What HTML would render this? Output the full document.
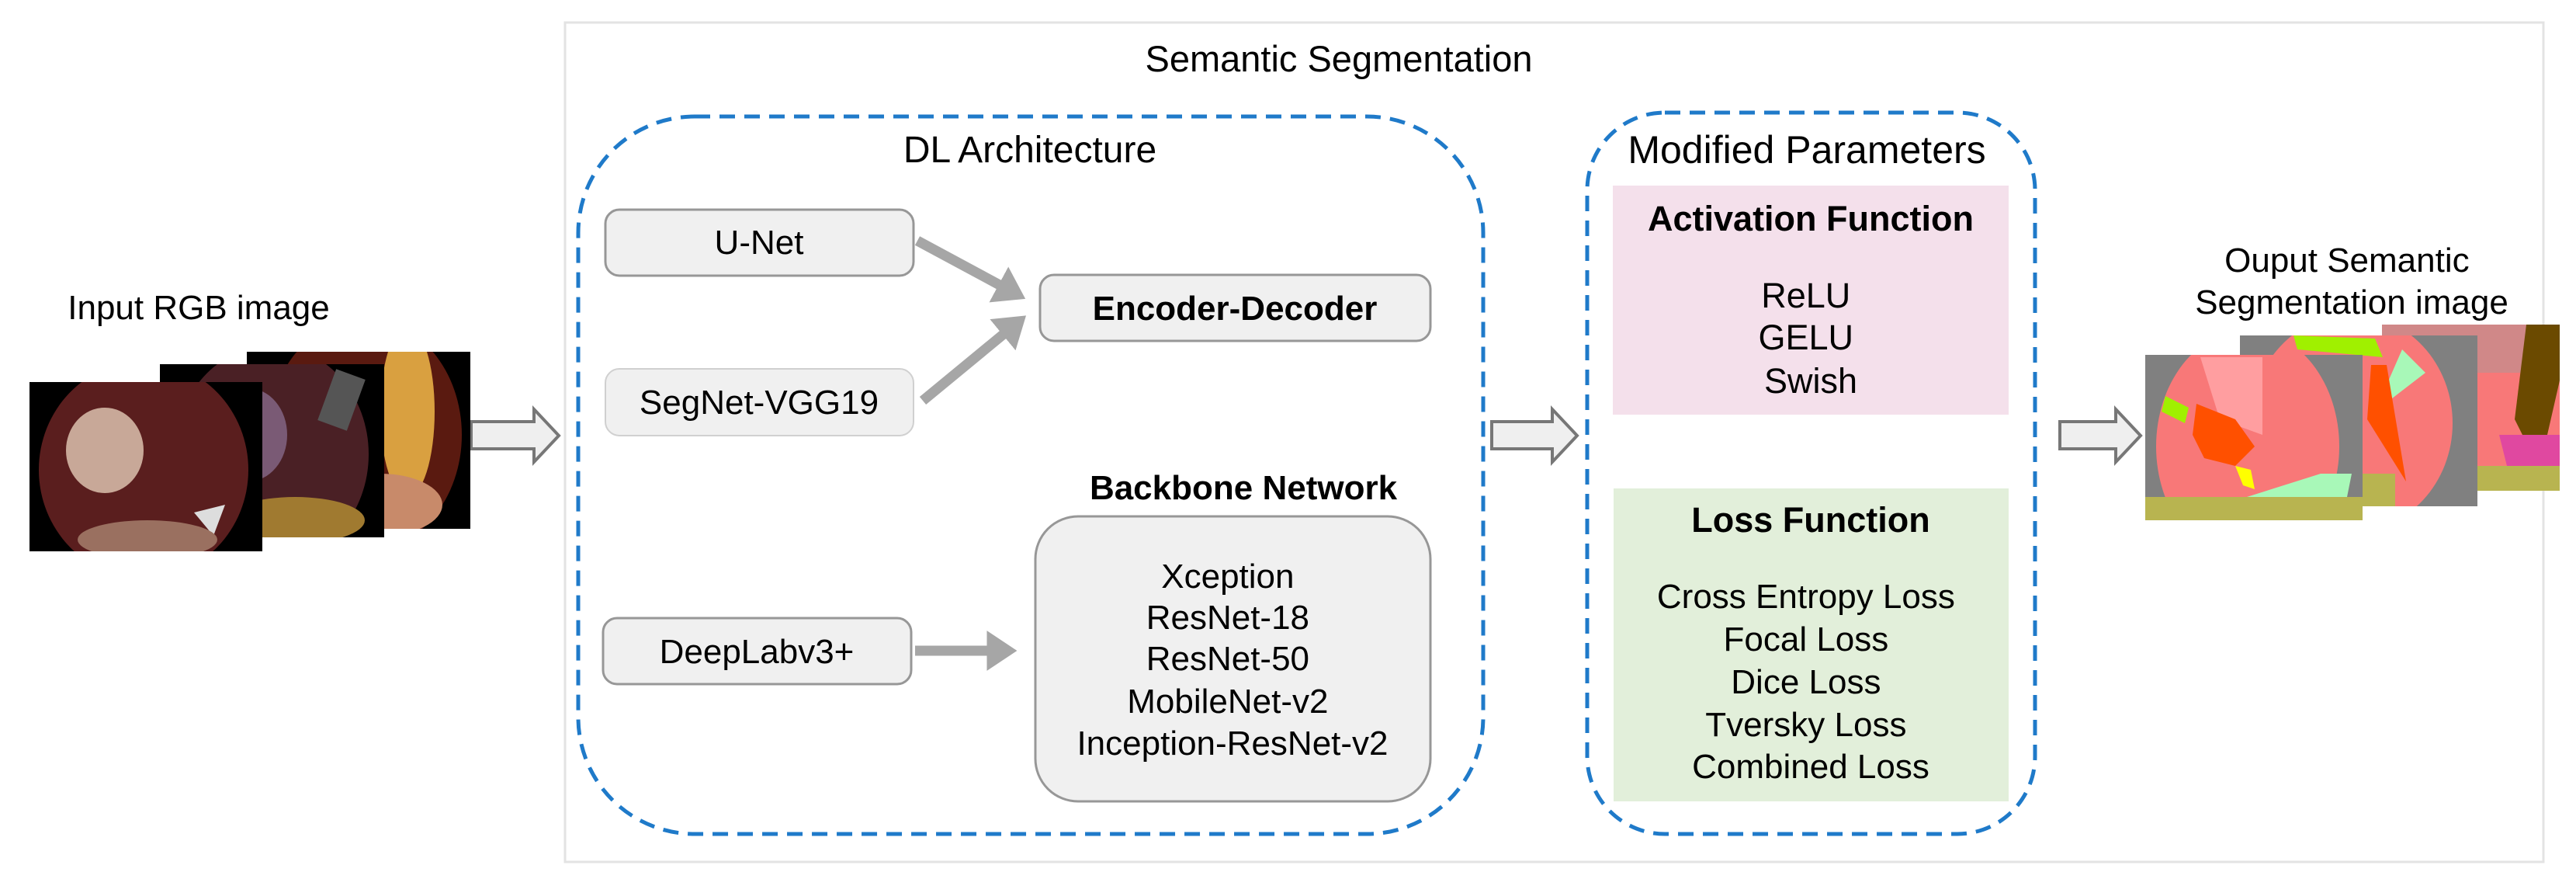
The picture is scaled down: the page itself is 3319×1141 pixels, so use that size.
<!DOCTYPE html>
<html><head><meta charset="utf-8"><style>
html,body{margin:0;padding:0;background:#fff;}
svg{display:block;}
text{font-family:"Liberation Sans",Arial,sans-serif;fill:#000;}
</style></head><body>
<svg width="3319" height="1141" viewBox="0 0 3319 1141" xmlns="http://www.w3.org/2000/svg">
<defs>
<marker id="ah" markerWidth="4" markerHeight="4" refX="2.2" refY="2" orient="auto" markerUnits="strokeWidth">
<path d="M0,0 L3,2 L0,4 z" fill="#a6a6a6"/></marker>
<clipPath id="c1"><rect x="38" y="492" width="300" height="218"/></clipPath>
<clipPath id="c2"><rect x="206" y="469" width="289" height="223"/></clipPath>
<clipPath id="c3"><rect x="318" y="453" width="288" height="228"/></clipPath>
<clipPath id="o1"><rect x="2764" y="457" width="280" height="213"/></clipPath>
<clipPath id="o2"><rect x="2886" y="432" width="306" height="220"/></clipPath>
<clipPath id="o3"><rect x="3069" y="418" width="229" height="214"/></clipPath>
</defs>

<!-- Outer box -->
<rect x="728" y="29" width="2549" height="1081" fill="none" stroke="#e3e3e3" stroke-width="3"/>
<text x="1725" y="92" font-size="47" text-anchor="middle">Semantic Segmentation</text>

<!-- DL dashed box -->
<rect x="745" y="150" width="1166" height="924" rx="150" ry="150" fill="none" stroke="#1f7ac9" stroke-width="5" stroke-dasharray="20,12"/>
<text x="1327" y="209" font-size="48" text-anchor="middle">DL Architecture</text>

<rect x="780" y="270" width="397" height="85" rx="18" fill="#f0f0f0" stroke="#979797" stroke-width="3"/>
<text x="978" y="327" font-size="44" text-anchor="middle">U-Net</text>
<rect x="780" y="475" width="397" height="86" rx="18" fill="#f0f0f0" stroke="#d0d0d0" stroke-width="2"/>
<text x="978" y="533" font-size="44" text-anchor="middle">SegNet-VGG19</text>
<rect x="1340" y="354" width="503" height="85" rx="18" fill="#f0f0f0" stroke="#979797" stroke-width="3"/>
<text x="1591" y="412" font-size="44" font-weight="bold" text-anchor="middle">Encoder-Decoder</text>

<line x1="1182" y1="310" x2="1312" y2="380" stroke="#a6a6a6" stroke-width="13" marker-end="url(#ah)"/>
<line x1="1189" y1="516" x2="1314" y2="413" stroke="#a6a6a6" stroke-width="13" marker-end="url(#ah)"/>

<text x="1602" y="643" font-size="44" font-weight="bold" text-anchor="middle">Backbone Network</text>
<rect x="1334" y="665" width="509" height="367" rx="55" fill="#f0f0f0" stroke="#979797" stroke-width="3"/>
<text font-size="44" text-anchor="middle">
<tspan x="1588" y="757">Xception</tspan>
<tspan x="1588" y="810">ResNet-18</tspan>
<tspan x="1588" y="863">ResNet-50</tspan>
<tspan x="1588" y="918">MobileNet-v2</tspan>
<tspan x="1588" y="972">Inception-ResNet-v2</tspan>
</text>

<rect x="777" y="796" width="397" height="85" rx="18" fill="#f0f0f0" stroke="#979797" stroke-width="3"/>
<text x="975" y="854" font-size="44" text-anchor="middle">DeepLabv3+</text>
<line x1="1179" y1="838" x2="1300" y2="838" stroke="#a6a6a6" stroke-width="13" marker-end="url(#ah)"/>

<!-- Modified Parameters -->
<rect x="2045" y="145" width="577" height="929" rx="100" ry="100" fill="none" stroke="#1f7ac9" stroke-width="5" stroke-dasharray="20,12"/>
<text x="2328" y="210" font-size="50" text-anchor="middle">Modified Parameters</text>
<rect x="2078" y="239" width="510" height="295" fill="#f4e0eb"/>
<text x="2333" y="297" font-size="45" font-weight="bold" text-anchor="middle">Activation Function</text>
<text font-size="45" text-anchor="middle">
<tspan x="2333" y="396">ReLU</tspan>
<tspan x="2333" y="450">GELU</tspan>
<tspan x="2333" y="506">Swish</tspan>
</text>
<rect x="2079" y="629" width="509" height="403" fill="#e2efda"/>
<text x="2333" y="685" font-size="45" font-weight="bold" text-anchor="middle">Loss Function</text>
<text font-size="44" text-anchor="middle">
<tspan x="2333" y="783">Cross Entropy Loss</tspan>
<tspan x="2333" y="838">Focal Loss</tspan>
<tspan x="2333" y="893">Dice Loss</tspan>
<tspan x="2333" y="948">Tversky Loss</tspan>
<tspan x="2333" y="1002">Combined Loss</tspan>
</text>

<!-- hollow arrows -->
<g fill="#efefef" stroke="#777" stroke-width="4" stroke-linejoin="miter">
<path d="M607,543 L688,543 L688,527 L720,561 L688,595 L688,578 L607,578 z"/>
<path d="M1922,543 L2000,543 L2000,527 L2032,561 L2000,595 L2000,578 L1922,578 z"/>
<path d="M2654,543 L2726,543 L2726,527 L2758,561 L2726,595 L2726,578 L2654,578 z"/>
</g>

<!-- Input -->
<text x="256" y="411" font-size="44" text-anchor="middle">Input RGB image</text>
<g clip-path="url(#c3)">
<rect x="318" y="453" width="288" height="228" fill="#000"/>
<ellipse cx="470" cy="560" rx="125" ry="150" fill="#5a1a10"/>
<ellipse cx="525" cy="530" rx="35" ry="110" fill="#d9a040"/>
<ellipse cx="490" cy="650" rx="80" ry="40" fill="#c88a6a"/>
</g>
<g clip-path="url(#c2)">
<rect x="206" y="469" width="289" height="223" fill="#000"/>
<ellipse cx="350" cy="585" rx="125" ry="140" fill="#4a2025"/>
<ellipse cx="320" cy="560" rx="50" ry="60" fill="#7a5a75"/>
<rect x="420" y="480" width="40" height="70" fill="#555" transform="rotate(20 440 515)"/>
<ellipse cx="380" cy="670" rx="90" ry="30" fill="#a07a30"/>
</g>
<g clip-path="url(#c1)">
<rect x="38" y="492" width="300" height="218" fill="#000"/>
<ellipse cx="185" cy="605" rx="135" ry="140" fill="#5a1e1e"/>
<ellipse cx="135" cy="580" rx="50" ry="55" fill="#c8a898"/>
<path d="M250,660 L290,650 L275,690 z" fill="#ddd"/>
<ellipse cx="190" cy="695" rx="90" ry="25" fill="#9a7060"/>
</g>

<!-- Output -->
<text font-size="44" text-anchor="middle">
<tspan x="3030" y="350">Ouput Semantic</tspan>
<tspan x="3030" y="404">Segmentation image</tspan>
</text>
<g clip-path="url(#o3)">
<rect x="3069" y="418" width="229" height="214" fill="#d08888"/>
<rect x="3069" y="480" width="229" height="152" fill="#f87878"/>
<path d="M3255,418 L3298,418 L3298,490 L3282,560 L3250,560 L3240,540 z" fill="#6b4a00"/>
<path d="M3220,560 L3298,560 L3298,620 L3230,600 z" fill="#e048a0"/>
<rect x="3069" y="600" width="229" height="32" fill="#b8b450"/>
</g>
<g clip-path="url(#o2)">
<rect x="2886" y="432" width="306" height="220" fill="#808080"/>
<ellipse cx="3030" cy="545" rx="130" ry="140" fill="#f87878"/>
<path d="M2955,432 L3060,436 L3070,460 L2960,450 z" fill="#a0f000"/>
<path d="M3095,450 L3125,480 L3060,530 z" fill="#a8f8b8"/>
<path d="M3055,470 L3075,470 L3100,620 L3050,540 z" fill="#ff5000"/>
<rect x="2886" y="610" width="200" height="42" fill="#b8b450"/>
<rect x="3000" y="580" width="35" height="12" fill="#003080"/>
</g>
<g clip-path="url(#o1)">
<rect x="2764" y="457" width="280" height="213" fill="#808080"/>
<ellipse cx="2896" cy="575" rx="118" ry="150" fill="#f87878"/>
<path d="M2835,460 L2915,460 L2915,560 L2860,540 z" fill="#ff9ea0"/>
<path d="M2790,510 L2820,525 L2815,545 L2785,530 z" fill="#a0f000"/>
<path d="M2830,520 L2880,540 L2905,575 L2880,600 L2840,590 L2825,560 z" fill="#ff5000"/>
<path d="M2880,600 L2900,605 L2905,630 L2890,625 z" fill="#ffff00"/>
<path d="M2895,640 L2990,610 L3030,610 L3020,660 z" fill="#a8f8b8"/>
<rect x="2764" y="640" width="280" height="30" fill="#b8b450"/>
</g>
</svg>
</body></html>
